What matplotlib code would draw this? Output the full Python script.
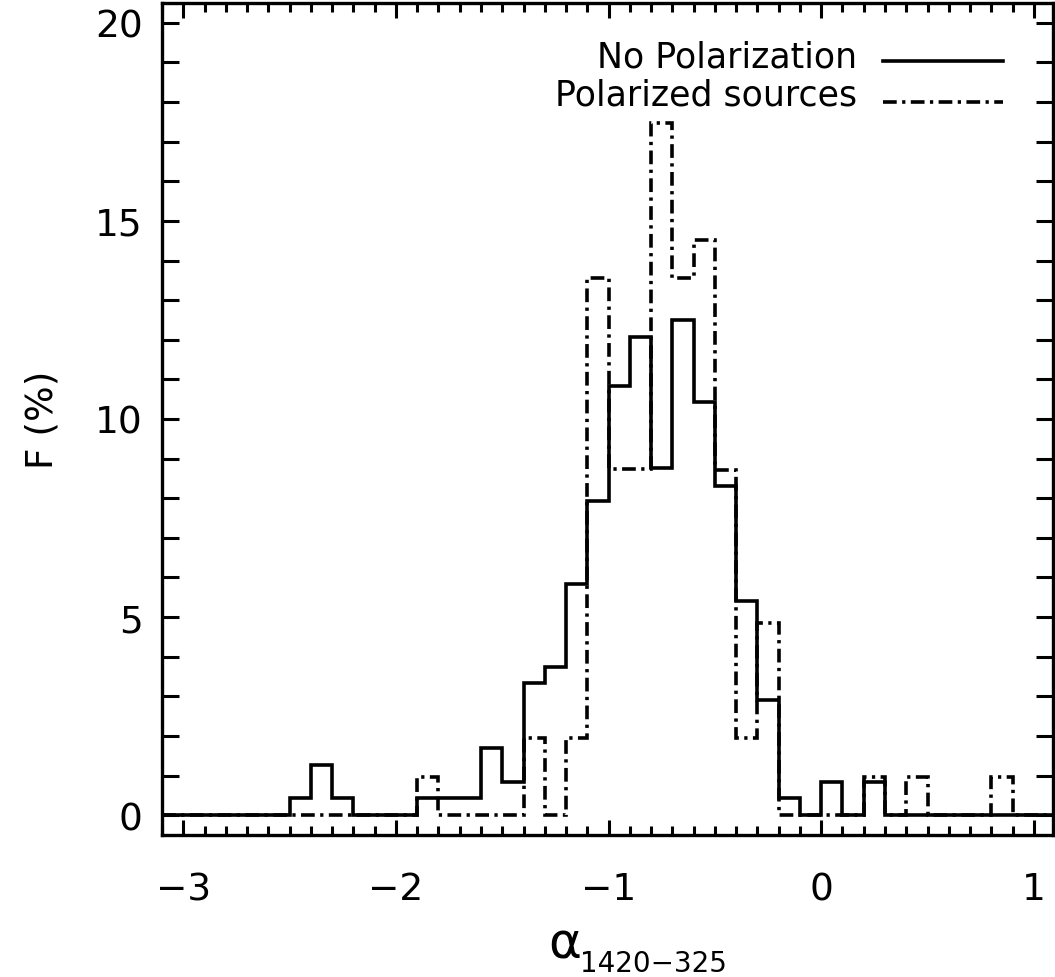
import numpy as np
import matplotlib
matplotlib.use("Agg")
import matplotlib.pyplot as plt

# Histogram bins (left edges, width 0.1) and percentages
bin_left = np.round(np.arange(-3.1, 1.05, 0.1), 1)
bin_width = 0.1

no_polarization = [
    0, 0, 0, 0, 0, 0,            # -3.1 .. -2.6
    0.43, 1.27, 0.43,            # -2.5 .. -2.3
    0, 0, 0,                     # -2.2 .. -2.0
    0.43, 0.43, 0.43,            # -1.9 .. -1.7
    1.69, 0.85,                  # -1.6, -1.5
    3.34, 3.75, 5.83, 7.92,      # -1.4 .. -1.1
    10.84, 12.07, 8.76, 12.49,   # -1.0 .. -0.7
    10.42, 8.32, 5.41, 2.90,     # -0.6 .. -0.3
    0.43, 0,                     # -0.2, -0.1
    0.85, 0, 0.85, 0,            # 0.0 .. 0.3
    0, 0, 0, 0, 0, 0, 0,         # 0.4 .. 1.0
]

polarized = [
    0, 0, 0, 0, 0, 0,            # -3.1 .. -2.6
    0, 0, 0,                     # -2.5 .. -2.3
    0, 0, 0,                     # -2.2 .. -2.0
    0.97, 0, 0,                  # -1.9 .. -1.7
    0, 0,                        # -1.6, -1.5
    1.94, 0, 1.94, 13.57,        # -1.4 .. -1.1
    8.74, 8.74, 17.46, 13.57,    # -1.0 .. -0.7
    14.53, 8.72, 1.94, 4.85,     # -0.6 .. -0.3
    0, 0,                        # -0.2, -0.1
    0, 0, 0.97, 0,               # 0.0 .. 0.3
    0.97, 0, 0, 0, 0.97, 0, 0,   # 0.4 .. 1.0
]

x_ticks = [-3, -2, -1, 0, 1]
y_ticks = [0, 5, 10, 15, 20]
labels = ["No Polarization", "Polarized sources"]

edges = np.append(bin_left, bin_left[-1] + bin_width)

plt.rcParams['font.family'] = ['DejaVu Sans']
W, H = 1055, 978
fig = plt.figure(figsize=(W / 100, H / 100), dpi=100)
ax = fig.add_axes([162 / W, 1 - 836 / H, (1053 - 162) / W, (836 - 4) / H])

lw = 2.6
dashdot = (0, (3.8, 1.5, 0.9, 1.5))
ax.stairs(no_polarization, edges, color='black', lw=lw, baseline=0)
ax.stairs(polarized, edges, color='black', lw=lw, linestyle=dashdot, baseline=0)

ax.set_xlim(-3.1, 1.09)
ax.set_ylim(-0.5, 20.5)
ax.set_xticks(x_ticks)
ax.set_xticklabels(["\u22123", "\u22122", "\u22121", "0", "1"])
ax.set_yticks(y_ticks)
ax.set_yticklabels([str(v) for v in y_ticks])
ax.set_xticks(np.arange(-3.1, 1.1, 0.1), minor=True)
ax.set_yticks(np.arange(0, 21, 1), minor=True)

for s in ax.spines.values():
    s.set_linewidth(2.4)

ax.tick_params(axis='both', which='both', direction='in', top=True, right=True,
               width=2.2, labelsize=27)
ax.tick_params(axis='x', which='major', length=11, pad=26)
ax.tick_params(axis='x', which='minor', length=6.5)
ax.tick_params(axis='y', which='major', length=12, pad=14)
ax.tick_params(axis='y', which='minor', length=12)

# legend (IDL style: text then line sample)
legend_text_x = 0.168
legend_line_x = [0.29, 0.854]
ax.text(legend_text_x, 18.9, labels[0], ha='right', va='baseline', fontsize=25)
ax.plot(legend_line_x, [19.04, 19.04], color='black', lw=lw)
ax.text(legend_text_x, 17.95, labels[1], ha='right', va='baseline', fontsize=25)
ax.plot(legend_line_x, [18.01, 18.01], color='black', lw=lw, linestyle=dashdot)

# axis labels
fig.text(548 / W, 1 - 959 / H, "\u03b1", fontsize=36, ha='left', va='baseline')
fig.text(580 / W, 1 - 972 / H, "1420\u2212325", fontsize=20, ha='left', va='baseline')
fig.text(42 / W, 1 - 420 / H, "F (%)", fontsize=27, rotation=90, ha='center', va='center')

fig.savefig("out.png", dpi=100)
